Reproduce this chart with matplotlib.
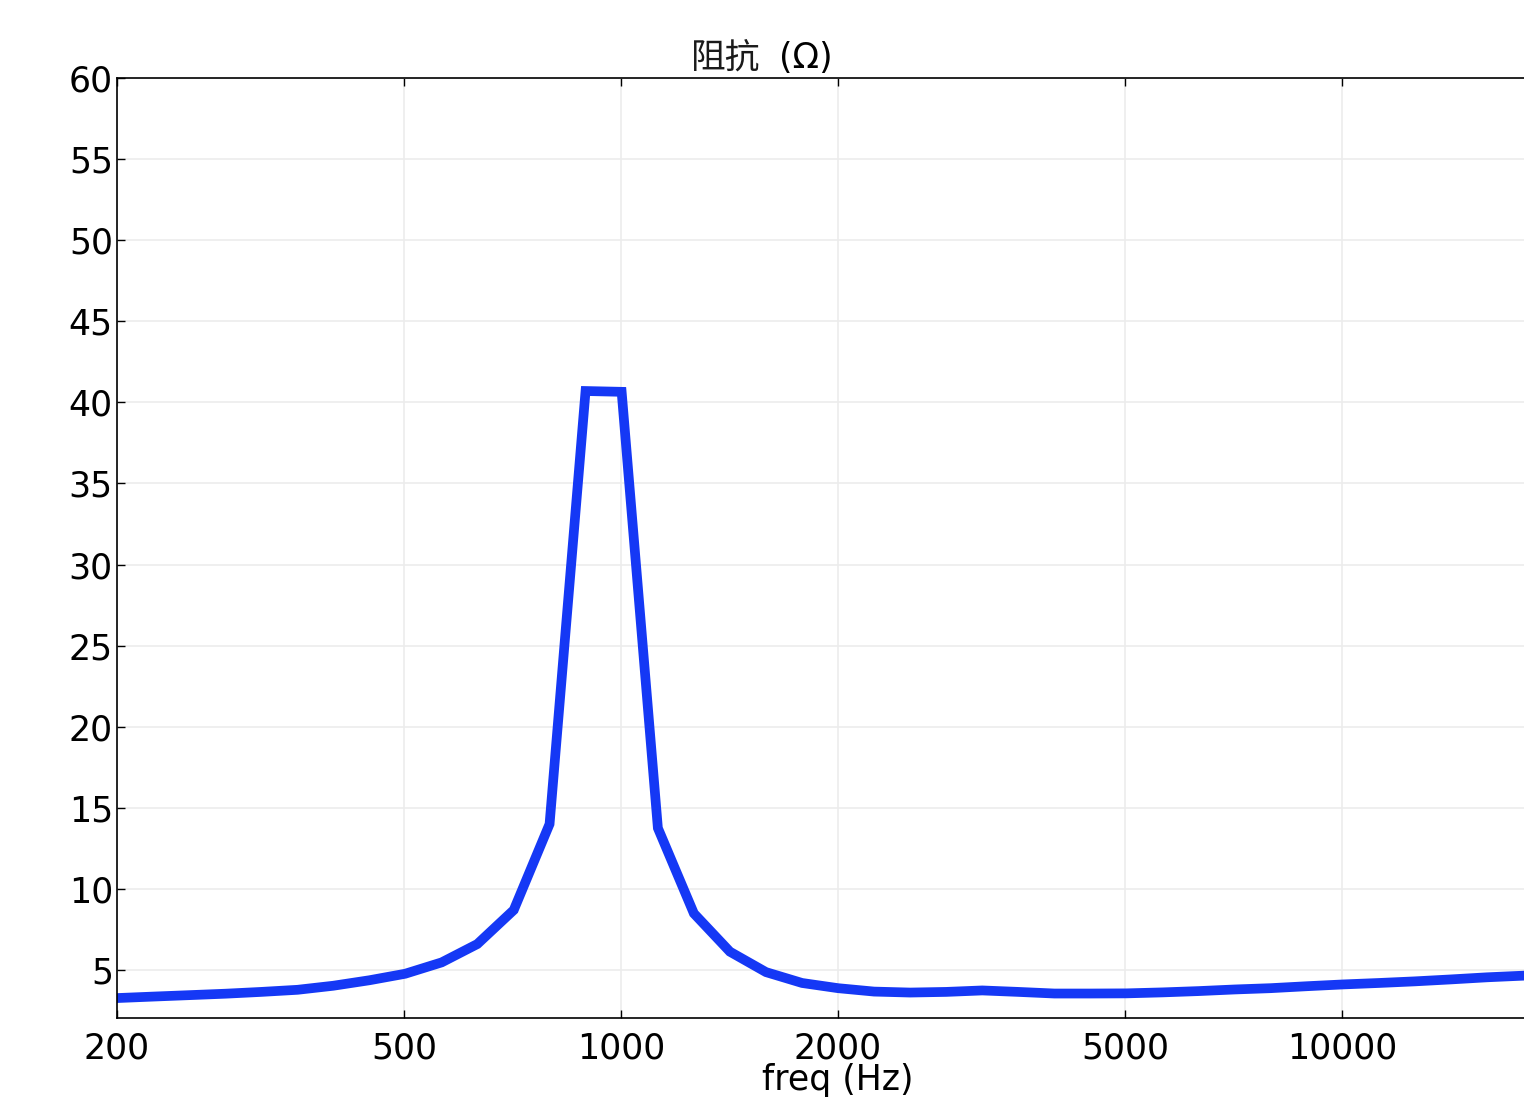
import numpy as np
import matplotlib.pyplot as plt

# data
freq = [200, 224, 252, 283, 317, 356, 399, 448, 502, 564, 632, 710, 796, 893,
        1002, 1125, 1262, 1416, 1589, 1783, 2000, 2244, 2518, 2825, 3170, 3557,
        3991, 4477, 5024, 5637, 6325, 7096, 7962, 8934, 10024, 11247, 12619,
        14159, 15887, 17825, 20000]
impedance = [3.27, 3.36, 3.45, 3.54, 3.65, 3.78, 4.03, 4.37, 4.77, 5.47, 6.6,
             8.7, 14.0, 40.7, 40.65, 13.75, 8.49, 6.13, 4.87, 4.2, 3.88, 3.67,
             3.61, 3.65, 3.74, 3.65, 3.55, 3.55, 3.56, 3.62, 3.70, 3.80, 3.88,
             4.0, 4.11, 4.2, 4.3, 4.42, 4.55, 4.65, 4.75]
xticks = [200, 500, 1000, 2000, 5000, 10000]
yticks = [5, 10, 15, 20, 25, 30, 35, 40, 45, 50, 55, 60]

fig = plt.figure(figsize=(15.24, 10.97), dpi=100)
ax = fig.add_axes([0.0768, 0.0720, 0.9462, 0.8569])

ax.plot(freq, impedance, color='#1538f5', lw=7, solid_joinstyle='miter')

ax.set_xscale('log')
ax.set_xlim(200, 20000)
ax.set_ylim(2.04, 60)
ax.set_xticks(xticks)
ax.set_xticklabels([str(t) for t in xticks])
ax.set_yticks(yticks)
ax.minorticks_off()
ax.tick_params(direction='in', length=6, width=1, labelsize=25, top=True)
ax.tick_params(axis='x', pad=10)
ax.tick_params(axis='y', pad=3)
ax.grid(True, color='#ececec', lw=1.2)
ax.set_axisbelow(True)
for s in ax.spines.values():
    s.set_linewidth(1.2)

# title: CJK part in a light CJK face, "(Ω)" in DejaVu
ty = 1 - 68 / 1097
fig.text(691 / 1524, ty, '阻抗', ha='left', va='baseline',
         fontsize=25, color='#1a1a1a', weight='light',
         family=['Noto Sans CJK SC', 'DejaVu Sans'])
fig.text(779 / 1524, ty, '(Ω)', ha='left', va='baseline', fontsize=25)
fig.text(838 / 1524, 1 - 1080 / 1097, 'freq (Hz)', ha='center', va='center',
         fontsize=25)

fig.savefig('out.png', dpi=100)
